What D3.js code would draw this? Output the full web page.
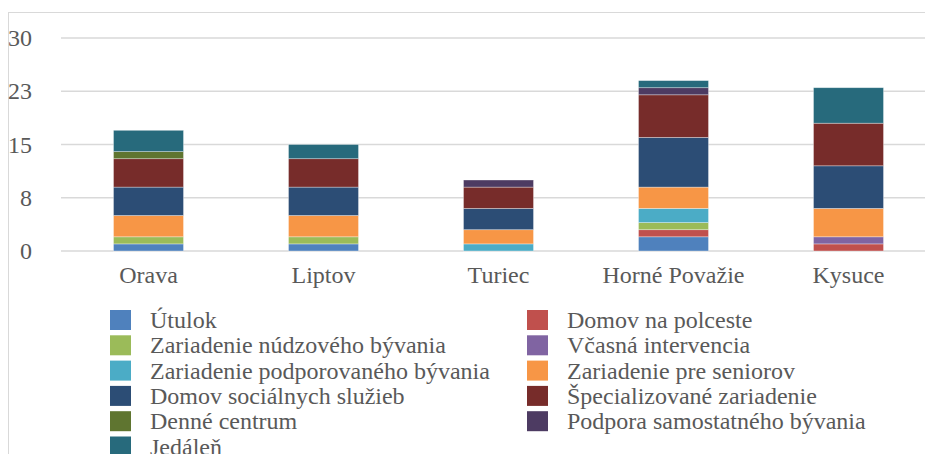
<!DOCTYPE html>
<html>
<head>
<meta charset="utf-8">
<script src="https://cdn.jsdelivr.net/npm/d3@7"></script>
<style>
  html, body { margin: 0; padding: 0; background: #fff; }
  svg { display: block; }
</style>
</head>
<body>
<svg id="chart" width="925" height="454"></svg>
<script>
const categories = ["Orava", "Liptov", "Turiec", "Horné Považie", "Kysuce"];

const seriesNames = [
  "Útulok", "Domov na polceste", "Zariadenie núdzového bývania", "Včasná intervencia",
  "Zariadenie podporovaného bývania", "Zariadenie pre seniorov", "Domov sociálnych služieb",
  "Špecializované zariadenie", "Denné centrum", "Podpora samostatného bývania", "Jedáleň"
];

const utulok        = [1, 1, 0, 2, 0];
const polceste      = [0, 0, 0, 1, 1];
const nudzove       = [1, 1, 0, 1, 0];
const vcasna        = [0, 0, 0, 0, 1];
const podporovane   = [0, 0, 1, 2, 0];
const seniori       = [3, 3, 2, 3, 4];
const dss           = [4, 4, 3, 7, 6];
const specializovane= [4, 4, 3, 6, 6];
const denneCentrum  = [1, 0, 0, 0, 0];
const podporaSamost = [0, 0, 1, 1, 0];
const jedalen       = [3, 2, 0, 1, 5];

const seriesValues = [utulok, polceste, nudzove, vcasna, podporovane, seniori, dss,
                      specializovane, denneCentrum, podporaSamost, jedalen];

const colors = ["#4F81BD", "#C0504D", "#9BBB59", "#8064A2", "#4BACC6", "#F79646",
                "#2C4D75", "#772C2A", "#5F7530", "#4D3B62", "#276A7C"];

const tickValues = [0, 7.5, 15, 22.5, 30];
const tickLabels = ["0", "8", "15", "23", "30"];

const FONT = "Liberation Serif";

const svg = d3.select("#chart");

// outer chart frame
svg.append("rect")
  .attr("x", 8.5).attr("y", 12.5)
  .attr("width", 1000).attr("height", 1000)
  .attr("fill", "none").attr("stroke", "#d9d9d9").attr("stroke-width", 1);

const x = d3.scaleBand().domain(categories).range([61, 936]).paddingInner(0.6).paddingOuter(0.3);
const y = d3.scaleLinear().domain([0, 30]).range([251, 38]);

// gridlines
svg.append("g").selectAll("line").data(tickValues).join("line")
  .attr("x1", 61).attr("x2", 936)
  .attr("y1", d => y(d)).attr("y2", d => y(d))
  .attr("stroke", "#d9d9d9").attr("stroke-width", 1.5);

// y tick labels
svg.append("g").selectAll("text").data(tickValues).join("text")
  .attr("x", 32).attr("y", d => y(d))
  .attr("text-anchor", "end").attr("dominant-baseline", "central")
  .attr("font-family", FONT).attr("font-size", 24).attr("fill", "#595959")
  .text((d, i) => tickLabels[i]);

// stacked data
const table = categories.map((c, i) => {
  const o = { cat: c };
  seriesNames.forEach((s, j) => o[s] = seriesValues[j][i]);
  return o;
});
const stacked = d3.stack().keys(seriesNames)(table);

svg.append("g").selectAll("g").data(stacked).join("g")
  .attr("fill", (d, i) => colors[i])
  .selectAll("rect").data(d => d.filter(p => p[1] - p[0] > 0)).join("rect")
  .attr("x", d => x(d.data.cat))
  .attr("width", x.bandwidth())
  .attr("y", d => y(d[1]))
  .attr("height", d => y(d[0]) - y(d[1]))
  .attr("stroke", "rgba(255,255,255,0.45)").attr("stroke-width", 0.75);

// x labels
svg.append("g").selectAll("text").data(categories).join("text")
  .attr("x", d => x(d) + x.bandwidth() / 2).attr("y", 275)
  .attr("text-anchor", "middle").attr("dominant-baseline", "central")
  .attr("font-family", FONT).attr("font-size", 24).attr("fill", "#595959")
  .text(d => d);

// legend
const legend = svg.append("g");
seriesNames.forEach((s, i) => {
  const col = i % 2, row = Math.floor(i / 2);
  const lx = col === 0 ? 110 : 527;
  const ly = 320 + row * 25.3;
  legend.append("rect")
    .attr("x", lx).attr("y", ly - 10).attr("width", 21).attr("height", 20)
    .attr("fill", colors[i]);
  legend.append("text")
    .attr("x", lx + 40).attr("y", ly)
    .attr("dominant-baseline", "central")
    .attr("font-family", FONT).attr("font-size", 24).attr("fill", "#595959")
    .text(s);
});
</script>
</body>
</html>
